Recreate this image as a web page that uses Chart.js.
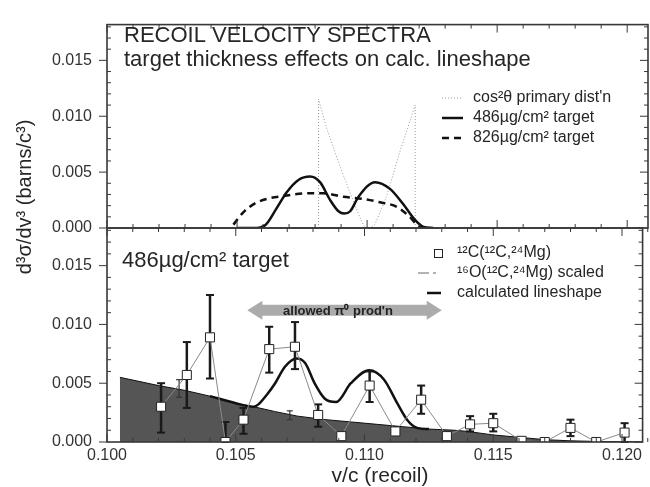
<!DOCTYPE html>
<html><head><meta charset="utf-8">
<script src="https://cdn.jsdelivr.net/npm/chart.js@4/dist/chart.umd.min.js"></script>
<style>
html,body{margin:0;padding:0;background:#fff;}
#wrap{position:relative;width:650px;height:487px;overflow:hidden;background:#fff;}
canvas{position:absolute;left:0;top:0;}
</style></head><body>
<div id="wrap"><canvas id="topc" width="650" height="487"></canvas><canvas id="botc" width="650" height="487"></canvas></div>
<script>
// ---- axis ranges / ticks ----
const X_MIN = 0.100, X_MAX = 0.1208, Y_MAX = 0.0182;
const X_STEP = 0.005, Y_STEP = 0.005, MINOR = 0.001;

// ---- upper panel: calculated lineshapes ----
const cosX = [0.10813,0.10813,0.10845,0.10896,0.10947,0.10975,0.10990,0.11010,0.11030,0.11076,0.11127,0.11185,0.11185];
const cosY = [0,0.01155,0.0089,0.0055,0.0024,0.0008,0.0001,0,0.0003,0.0029,0.0069,0.0110,0];
const t486X = [0.10500,0.10564,0.10608,0.10653,0.10691,0.10736,0.10781,0.10819,0.10858,0.10890,0.10912,0.10935,0.10967,0.11031,0.11088,0.11140,0.11185,0.11217,0.11254];
const t486Y = [0,0,0.00025,0.0018,0.0032,0.0043,0.0046,0.0041,0.0025,0.0015,0.0013,0.0015,0.0028,0.0041,0.0035,0.0021,0.0007,0.0001,0];
const t826X = [0.10486,0.10524,0.10569,0.10614,0.10691,0.10768,0.10832,0.10909,0.10986,0.11050,0.11114,0.11159,0.11191,0.11210];
const t826Y = [0.0003,0.0014,0.0022,0.0026,0.0029,0.0031,0.0031,0.0028,0.0026,0.0023,0.0019,0.0011,0.0003,0];

// ---- lower panel: data ----
const obsX  = [0.1021,0.1031,0.1040,0.1046,0.1053,0.1063,0.1073,0.1082,0.1091,0.1102,0.1112,0.1122,0.1132,0.1141,0.1150,0.1161,0.1170,0.1180,0.1190,0.1201];
const obsY  = [0.0030,0.0057,0.0089,0.0000,0.0019,0.0079,0.0081,0.0023,0.0005,0.0048,0.0009,0.0036,0.0005,0.0015,0.0016,0.0001,0.0000,0.0012,0.0000,0.0008];
const obsHi = [0.0050,0.0085,0.0125,0.0017,0.0029,0.0098,0.0102,0.0032,0.0005,0.0060,0.0009,0.0048,0.0005,0.0022,0.0024,0.0001,0.0000,0.0019,0.0000,0.0016];
const obsLo = [0.0008,0.0029,0.0054,0.0000,0.0007,0.0059,0.0062,0.0013,0.0005,0.0034,0.0009,0.0024,0.0005,0.0009,0.0009,0.0001,0.0000,0.0005,0.0000,0.0000];
const bgX = [0.1005,0.1020,0.1030,0.1040,0.1050,0.1057,0.1065,0.1074,0.1085,0.1095,0.1105,0.1115,0.1125,0.1135,0.1140,0.1150,0.1160,0.1170,0.1180,0.1190,0.1208];
const bgY = [0.0055,0.0048,0.0044,0.0039,0.0033,0.0030,0.0026,0.0022,0.0019,0.0017,0.0015,0.0013,0.0011,0.0010,0.0009,0.0006,0.0004,0.0002,0.0001,0.00005,0];
const bgErrX  = [0.1028,0.1071];
const bgErrHi = [0.0053,0.00265];
const bgErrLo = [0.0038,0.0019];
const calcX = [0.1040,0.1050,0.1057,0.10588,0.10620,0.10653,0.10691,0.10736,0.10770,0.10806,0.10845,0.10890,0.10947,0.11018,0.11076,0.11127,0.11165,0.11204,0.1125];
const calcY = [0.0039,0.0033,0.0030,0.0032,0.0040,0.0050,0.0064,0.0071,0.0067,0.0050,0.0037,0.0034,0.0050,0.0061,0.0053,0.0033,0.0019,0.0012,0.0011];
const arrowX = [0.10545,0.1130];
const arrowY = 0.0112;

const FONT = '"Liberation Sans", Arial, Helvetica, sans-serif';
const TXT = '#262626';
const pts = (xs, ys) => xs.map((x, i) => ({x: x, y: ys[i]}));

function line(ctx, x1, y1, x2, y2) { ctx.beginPath(); ctx.moveTo(x1, y1); ctx.lineTo(x2, y2); ctx.stroke(); }

function frameTicks(chart) {
  const {ctx, chartArea: a, scales: {x, y}} = chart;
  ctx.save();
  ctx.strokeStyle = '#383838';
  ctx.lineWidth = 1.6;
  ctx.strokeRect(a.left, a.top, a.right - a.left, a.bottom - a.top);
  ctx.lineWidth = 1;
  const nx = Math.round((X_MAX - X_MIN) / MINOR + 1e-6);
  for (let k = 0; k <= nx; k++) {
    const px = x.getPixelForValue(X_MIN + k * MINOR);
    const L = (k % 5 === 0) ? 8 : 4;
    line(ctx, px, a.bottom, px, a.bottom - L);
    line(ctx, px, a.top, px, a.top + L);
  }
  const ny = Math.floor(Y_MAX / MINOR + 1e-6);
  for (let k = 0; k <= ny; k++) {
    const py = y.getPixelForValue(k * MINOR);
    const major = (k % 5 === 0);
    if (major) line(ctx, a.left - 8, py, a.left, py); else line(ctx, a.left, py, a.left + 4, py);
    line(ctx, a.right, py, a.right - (major ? 8 : 4), py);
  }
  ctx.restore();
}

function txt(ctx, s, x, y, size, opts) {
  opts = opts || {};
  ctx.font = (opts.bold ? 'bold ' : '') + size + 'px ' + FONT;
  ctx.fillStyle = opts.color || TXT;
  ctx.textAlign = opts.align || 'left';
  ctx.textBaseline = opts.base || 'alphabetic';
  ctx.fillText(s, x, y);
}

const upperDeco = {
  id: 'upperDeco',
  afterDraw(chart) {
    const ctx = chart.ctx;
    frameTicks(chart);
    ctx.save();
    txt(ctx, 'RECOIL VELOCITY SPECTRA', 124, 42, 22);
    txt(ctx, 'target thickness effects on calc. lineshape', 124, 66, 22);
    // legend
    ctx.strokeStyle = '#999'; ctx.lineWidth = 1; ctx.setLineDash([1, 2]);
    line(ctx, 442, 98, 463, 98);
    ctx.strokeStyle = '#111'; ctx.lineWidth = 2.5; ctx.setLineDash([]);
    line(ctx, 442, 118, 463, 118);
    ctx.setLineDash([7, 5]);
    line(ctx, 442, 138, 465, 138);
    ctx.setLineDash([]);
    txt(ctx, 'cos²θ primary dist\'n', 473, 98, 16, {base: 'middle'});
    txt(ctx, '486µg/cm² target', 473, 118, 16, {base: 'middle'});
    txt(ctx, '826µg/cm² target', 473, 138, 16, {base: 'middle'});
    ctx.restore();
  }
};

const lowerDeco = {
  id: 'lowerDeco',
  beforeDatasetDraw(chart, args) {
    if (args.index !== 0) return;
    const {ctx, scales: {x, y}} = chart;
    ctx.save();
    // small error bars on scaled background
    ctx.strokeStyle = '#333'; ctx.lineWidth = 1.2;
    bgErrX.forEach((v, i) => {
      const px = x.getPixelForValue(v), p1 = y.getPixelForValue(bgErrHi[i]), p2 = y.getPixelForValue(bgErrLo[i]);
      line(ctx, px, p1, px, p2); line(ctx, px - 3, p1, px + 3, p1); line(ctx, px - 3, p2, px + 3, p2);
    });
    // data error bars
    ctx.strokeStyle = '#1a1a1a'; ctx.lineWidth = 2.5;
    obsX.forEach((v, i) => {
      if (obsHi[i] === obsLo[i]) return;
      const px = x.getPixelForValue(v), p1 = y.getPixelForValue(obsHi[i]), p2 = y.getPixelForValue(obsLo[i]);
      line(ctx, px, p1, px, p2);
      ctx.lineWidth = 2;
      line(ctx, px - 4, p1, px + 4, p1); line(ctx, px - 4, p2, px + 4, p2);
      ctx.lineWidth = 2.5;
    });
    ctx.restore();
  },
  afterDraw(chart) {
    const {ctx, scales: {x, y}} = chart;
    frameTicks(chart);
    ctx.save();
    // allowed pi0 arrow
    const x1 = x.getPixelForValue(arrowX[0]), x2 = x.getPixelForValue(arrowX[1]), yc = y.getPixelForValue(arrowY);
    const hw = 5.5, hl = 15, hh = 9.5;
    ctx.fillStyle = '#ababab';
    ctx.beginPath();
    ctx.moveTo(x1, yc);
    ctx.lineTo(x1 + hl, yc - hh); ctx.lineTo(x1 + hl, yc - hw);
    ctx.lineTo(x2 - hl, yc - hw); ctx.lineTo(x2 - hl, yc - hh);
    ctx.lineTo(x2, yc);
    ctx.lineTo(x2 - hl, yc + hh); ctx.lineTo(x2 - hl, yc + hw);
    ctx.lineTo(x1 + hl, yc + hw); ctx.lineTo(x1 + hl, yc + hh);
    ctx.closePath(); ctx.fill();
    txt(ctx, 'allowed π⁰ prod\'n', 338, yc + 1, 13, {bold: true, align: 'center', base: 'middle', color: '#222'});
    // panel label
    txt(ctx, '486µg/cm² target', 122, 267, 22);
    // legend
    ctx.fillStyle = '#fff'; ctx.strokeStyle = '#222'; ctx.lineWidth = 1;
    ctx.fillRect(434, 249, 8, 8); ctx.strokeRect(434.5, 249.5, 8, 8);
    ctx.strokeStyle = '#666'; ctx.lineWidth = 1;
    line(ctx, 418, 273, 429, 273); line(ctx, 433, 273, 436, 273);
    ctx.strokeStyle = '#111'; ctx.lineWidth = 2.5;
    line(ctx, 427, 293, 441, 293);
    txt(ctx, '¹²C(¹²C,²⁴Mg)', 457, 253, 16, {base: 'middle'});
    txt(ctx, '¹⁶O(¹²C,²⁴Mg) scaled', 457, 273, 16, {base: 'middle'});
    txt(ctx, 'calculated lineshape', 457, 293, 16, {base: 'middle'});
    // axis titles
    txt(ctx, 'v/c (recoil)', 380, 476, 21, {align: 'center', base: 'middle'});
    ctx.translate(25, 197); ctx.rotate(-Math.PI / 2);
    txt(ctx, 'd³σ/dv³ (barns/c³)', 0, 0, 20, {align: 'center', base: 'middle'});
    ctx.restore();
  }
};

function yAxis() {
  return {
    type: 'linear', min: 0, max: Y_MAX,
    grid: {display: false, drawTicks: false}, border: {display: false},
    ticks: {stepSize: Y_STEP, includeBounds: false, padding: 15, color: '#333',
      font: {family: FONT, size: 16}, callback: v => Number(v).toFixed(3)},
    afterFit: s => { s.width = 107; }
  };
}

Chart.defaults.font.family = FONT;

new Chart(document.getElementById('topc'), {
  type: 'line',
  data: {datasets: [
    {label: '486µg/cm² target', data: pts(t486X, t486Y), borderColor: '#111', borderWidth: 2.5,
     pointRadius: 0, cubicInterpolationMode: 'monotone', fill: false},
    {label: '826µg/cm² target', data: pts(t826X, t826Y), borderColor: '#111', borderWidth: 2.5,
     borderDash: [7, 5], pointRadius: 0, cubicInterpolationMode: 'monotone', fill: false},
    {label: 'cos²θ primary dist\'n', data: pts(cosX, cosY), borderColor: '#9a9a9a', borderWidth: 1,
     borderDash: [1, 2], pointRadius: 0, tension: 0, fill: false}
  ]},
  options: {
    responsive: false, animation: false, events: [],
    layout: {padding: {top: 13, right: 2, bottom: 259, left: 0}},
    plugins: {legend: {display: false}, tooltip: {enabled: false}},
    scales: {
      x: {type: 'linear', min: X_MIN, max: X_MAX, display: false},
      y: yAxis()
    }
  },
  plugins: [upperDeco]
});

new Chart(document.getElementById('botc'), {
  type: 'line',
  data: {datasets: [
    {label: '¹²C(¹²C,²⁴Mg)', data: pts(obsX, obsY), borderColor: '#8a8a8a', borderWidth: 1,
     pointStyle: 'rect', pointRadius: 6.4, pointBackgroundColor: '#fff', pointBorderColor: '#222',
     pointBorderWidth: 1, tension: 0, fill: false},
    {label: 'calculated lineshape', data: pts(calcX, calcY), borderColor: '#111', borderWidth: 2.5,
     pointRadius: 0, cubicInterpolationMode: 'monotone', fill: false},
    {label: '¹⁶O(¹²C,²⁴Mg) scaled', data: pts(bgX, bgY), borderColor: '#111', borderWidth: 1,
     backgroundColor: '#555', pointRadius: 0, tension: 0, fill: 'origin'}
  ]},
  options: {
    responsive: false, animation: false, events: [],
    layout: {padding: {top: 228, right: 2, bottom: 0, left: 0}},
    plugins: {legend: {display: false}, tooltip: {enabled: false}},
    scales: {
      x: {type: 'linear', min: X_MIN, max: X_MAX,
        grid: {display: false, drawTicks: false}, border: {display: false},
        ticks: {stepSize: X_STEP, includeBounds: false, padding: 4, color: '#333', maxRotation: 0,
          font: {family: FONT, size: 16}, callback: v => Number(v).toFixed(3)},
        afterFit: s => { s.height = 45; }
      },
      y: yAxis()
    }
  },
  plugins: [lowerDeco]
});
</script>
</body></html>
